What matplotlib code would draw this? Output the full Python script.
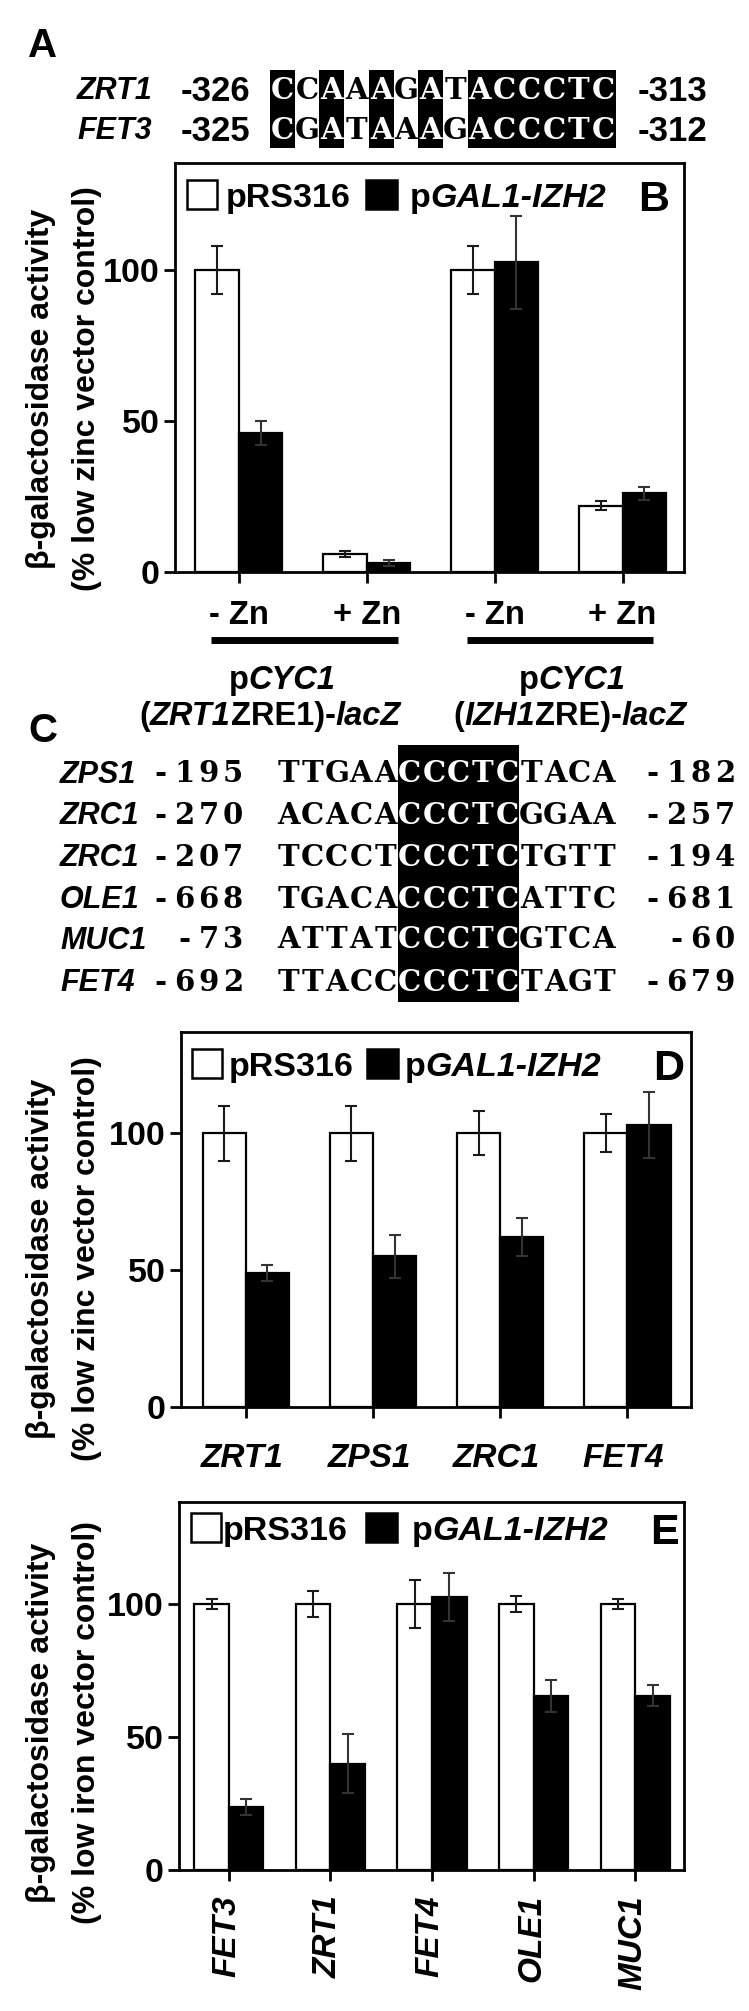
import numpy as np
import matplotlib
matplotlib.use("Agg")
import matplotlib.pyplot as plt
import matplotlib.transforms as mtransforms
from matplotlib.patches import Rectangle

W, H = 749, 2011
SANS = "Liberation Sans"
SEQ_FONT = "DejaVu Serif"

plt.rcParams["font.family"] = [SANS, "DejaVu Sans"]
plt.rcParams["font.weight"] = "bold"

# ---- data ----
# A: ZRE alignment
a_genes = ["ZRT1", "FET3"]
a_starts = ["-326", "-325"]
a_ends = ["-313", "-312"]
a_seqs = ["CCAAAGATACCCTC", "CGATAAAGACCCTC"]
a_marked = [0, 2, 4, 6, 8, 9, 10, 11, 12, 13]

# B: reporter activity, % of low zinc vector control
b_cond = ["- Zn", "+ Zn", "- Zn", "+ Zn"]
b_vec = [100, 6, 100, 22]
b_vec_err = [8, 1, 8, 1.5]
b_izh = [46, 3, 102.5, 26]
b_izh_err = [4, 1, 15.5, 2]

# C: CCCTC motifs
c_genes = ["ZPS1", "ZRC1", "ZRC1", "OLE1", "MUC1", "FET4"]
c_starts = ["-195", "-270", "-207", "-668", "-73", "-692"]
c_ends = ["-182", "-257", "-194", "-681", "-60", "-679"]
c_seqs = ["TTGAACCCTCTACA", "ACACACCCTCGGAA", "TCCCTCCCTCTGTT",
          "TGACACCCTCATTC", "ATTATCCCTCGTCA", "TTACCCCCTCTAGT"]
c_marked = [5, 6, 7, 8, 9]

# D: low zinc
d_genes = ["ZRT1", "ZPS1", "ZRC1", "FET4"]
d_vec = [100, 100, 100, 100]
d_vec_err = [10, 10, 8, 7]
d_izh = [49, 55, 62, 103]
d_izh_err = [3, 8, 7, 12]

# E: low iron
e_genes = ["FET3", "ZRT1", "FET4", "OLE1", "MUC1"]
e_vec = [100, 100, 100, 100, 100]
e_vec_err = [2, 5, 9, 3, 2]
e_izh = [23.5, 40, 102.5, 65.5, 65.5]
e_izh_err = [3, 11, 9, 6, 4]

fig = plt.figure(figsize=(W / 100, H / 100), dpi=100)


def add_box(l, t, r, b):
    return fig.add_axes([l / W, 1 - b / H, (r - l) / W, (b - t) / H])


def bar_panel(ax, vec, vec_err, izh, izh_err, xlim, ymax):
    x = np.arange(len(vec))
    w = 0.34
    ax.bar(x - w / 2, vec, w, color="white", edgecolor="black", linewidth=1.6,
           yerr=vec_err, error_kw=dict(elinewidth=1.5, capsize=4, capthick=1.5, ecolor="#1a1a1a"))
    ax.bar(x + w / 2, izh, w, color="black", edgecolor="black", linewidth=1.6,
           yerr=izh_err, error_kw=dict(elinewidth=1.5, capsize=4, capthick=1.5, ecolor="#333333"))
    ax.set_xlim(*xlim)
    ax.set_ylim(0, ymax)
    ax.set_yticks([0, 50, 100])
    ax.set_yticklabels(["0", "50", "100"], fontsize=24.5, fontweight="bold")
    ax.set_xticks(x)
    ax.set_xticklabels([])
    ax.tick_params(direction="out", length=8, width=2, pad=3)
    for s in ax.spines.values():
        s.set_linewidth(2)
    return x


axB = add_box(175, 163, 684, 572)
xb = bar_panel(axB, b_vec, b_vec_err, b_izh, b_izh_err, (-0.5, 3.48), 135.4)
axD = add_box(181, 1032, 691, 1407)
xd = bar_panel(axD, d_vec, d_vec_err, d_izh, d_izh_err, (-0.51, 3.50), 137)
axE = add_box(179, 1502, 684, 1870)
xe = bar_panel(axE, e_vec, e_vec_err, e_izh, e_izh_err, (-0.49, 4.48), 138.3)

# overlay in pixel coordinates (y downwards)
cv = fig.add_axes([0, 0, 1, 1], zorder=10)
cv.set_xlim(0, W)
cv.set_ylim(H, 0)
cv.axis("off")
cv.patch.set_visible(False)
renderer = fig.canvas.get_renderer()


def px(ax, xv):
    return ax.transData.transform((xv, 0))[0]


def base(yc, size, k=0.36):
    return yc + k * size * 100 / 72


def rich(x, yc, parts, size, ha="center"):
    texts = []
    for s, it in parts:
        t = cv.text(0, base(yc, size), s, fontsize=size, fontweight="bold",
                    fontstyle="italic" if it else "normal", ha="left", va="baseline")
        texts.append(t)
    widths = [t.get_window_extent(renderer).width for t in texts]
    start = x - sum(widths) / 2 if ha == "center" else x
    for t, wd in zip(texts, widths):
        t.set_x(start)
        start += wd


def runs(idx):
    out = []
    for i in idx:
        if out and i == out[-1][1] + 1:
            out[-1][1] = i
        else:
            out.append([i, i])
    return out


def mono(x, yc, ch, size, color="black"):
    # one glyph per fixed-pitch cell
    cv.text(x, base(yc, size, 0.36), ch, family=SEQ_FONT, fontsize=size, fontweight="bold",
            color=color, ha="center", va="baseline")


def seq_block(rows_y, seqs, marked, x0, pitch, top, bottom, size):
    for a, b in runs(marked):
        cv.add_patch(Rectangle((x0 + a * pitch, top), (b - a + 1) * pitch, bottom - top,
                               facecolor="black", edgecolor="none"))
    for y, s in zip(rows_y, seqs):
        for i, ch in enumerate(s):
            mono(x0 + (i + 0.5) * pitch, y, ch, size, "white" if i in marked else "black")


def legend(y_top, sq1, t1, sq2, t2, letter, lx):
    cv.add_patch(Rectangle((sq1, y_top), 30, 29, facecolor="white", edgecolor="black", linewidth=1.8))
    cv.add_patch(Rectangle((sq2, y_top), 31, 29, facecolor="black", edgecolor="black", linewidth=1.8))
    yc = y_top + 15
    rich(t1, yc, [("pRS316", False)], 24.5, ha="left")
    rich(t2, yc, [("p", False), ("GAL1-IZH2", True)], 24.5, ha="left")
    cv.text(lx, base(yc, 31), letter, fontsize=31, fontweight="bold", ha="left", va="baseline")


def ylabel(yc, line2):
    # baseline positions of the two rotated lines
    cv.text(49, yc, "\u03b2-galactosidase activity", fontsize=23, fontweight="bold",
            rotation=90, rotation_mode="anchor", ha="center", va="baseline")
    cv.text(95, yc, line2, fontsize=23, fontweight="bold",
            rotation=90, rotation_mode="anchor", ha="center", va="baseline")


# ---- A ----
cv.text(43, base(42, 29), "A", fontsize=29, fontweight="bold", ha="center", va="baseline")
a_rows = [88, 128]
seq_block(a_rows, a_seqs, a_marked, 270, 24.7, 70, 148, 21)
for y, g, s, e in zip(a_rows, a_genes, a_starts, a_ends):
    cv.text(77, base(y, 22), g, fontsize=22, fontweight="bold", fontstyle="italic", ha="left", va="baseline")
    cv.text(250, base(y, 25), s, fontsize=25, fontweight="bold", ha="right", va="baseline")
    cv.text(638, base(y, 25), e, fontsize=25, fontweight="bold", ha="left", va="baseline")

# ---- B ----
legend(180, 187, 226, 366, 410, "B", 638)
for xv, lab in zip(xb, b_cond):
    cv.text(px(axB, xv), base(612, 23.5), lab, fontsize=23.5, fontweight="bold", ha="center", va="baseline")
blend = mtransforms.blended_transform_factory(axB.transData, cv.transData)
for g0 in (0, 2):
    cv.plot([g0 - 0.22, g0 + 1.24], [640, 640], color="black", linewidth=5,
            solid_capstyle="butt", transform=blend, clip_on=False)
rich(282, 677, [("p", False), ("CYC1", True)], 23.5)
rich(270, 713, [("(", False), ("ZRT1", True), ("ZRE1)-", False), ("lacZ", True)], 23.5)
rich(572, 677, [("p", False), ("CYC1", True)], 23.5)
rich(570, 713, [("(", False), ("IZH1", True), ("ZRE)-", False), ("lacZ", True)], 23.5)
ylabel(389, "(% low zinc vector control)")

# ---- C ----
cv.text(43, base(728, 29), "C", fontsize=29, fontweight="bold", ha="center", va="baseline")
c_rows = [772, 813, 855, 897, 938, 980]
pc = 24.3
seq_block(c_rows, c_seqs, c_marked, 276, pc, 745, 1002, 21)
for y, g, s, e in zip(c_rows, c_genes, c_starts, c_ends):
    cv.text(60, base(y, 22), g, fontsize=22, fontweight="bold", fontstyle="italic", ha="left", va="baseline")
    for j, ch in enumerate(s):
        mono(245 - (len(s) - j - 0.5) * pc, y, ch, 21)
    for j, ch in enumerate(e):
        mono(737 - (len(e) - j - 0.5) * pc, y, ch, 21)

# ---- D ----
legend(1049, 192, 229, 367, 405, "D", 653)
for xv, lab in zip(xd, d_genes):
    cv.text(px(axD, xv) - 4, base(1455, 24), lab, fontsize=24, fontweight="bold", fontstyle="italic",
            ha="center", va="baseline")
ylabel(1259, "(% low zinc vector control)")

# ---- E ----
legend(1513, 191, 223, 366, 412, "E", 650)
for xv, lab in zip(xe, e_genes):
    cv.text(px(axE, xv) - 2, 1895, lab, fontsize=24, fontweight="bold", fontstyle="italic",
            rotation=90, ha="center", va="top")
ylabel(1723, "(% low iron vector control)")

fig.savefig("out.png", dpi=100)
